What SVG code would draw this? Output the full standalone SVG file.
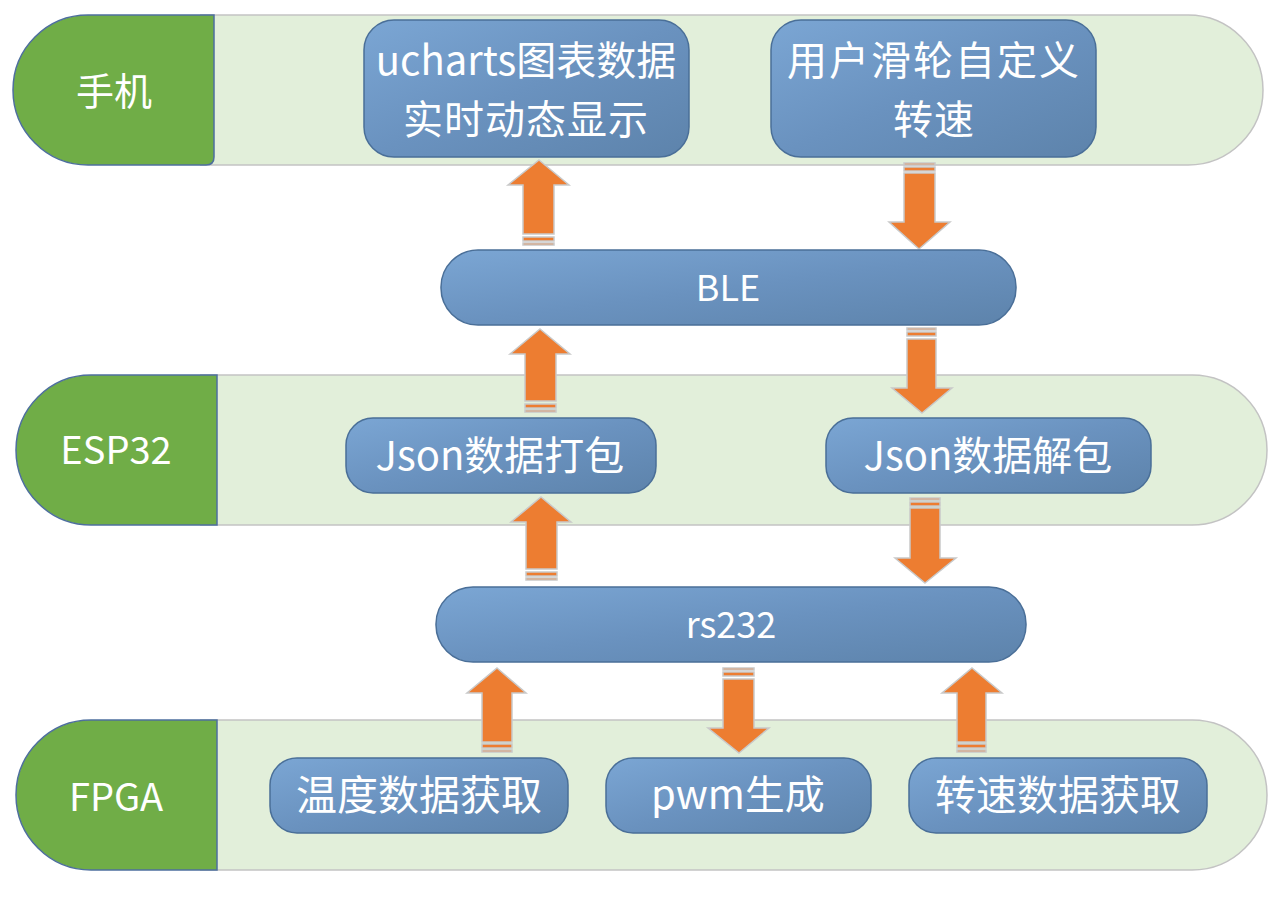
<svg xmlns="http://www.w3.org/2000/svg" width="1284" height="897" viewBox="0 0 1284 897">
<defs>
<linearGradient id="ng" x1="0" y1="0" x2="1" y2="1">
<stop offset="0" stop-color="#7ba6d4"/>
<stop offset="0.5" stop-color="#6a92bf"/>
<stop offset="1" stop-color="#5d83ab"/>
</linearGradient>
<style>
.band{fill:#e2efda;stroke:#c3c3c3;stroke-width:1.5}
.lane{fill:#70ad47;stroke:#4e6f9e;stroke-width:1.5}
.node{fill:url(#ng);stroke:#4a6f98;stroke-width:1.5}
.arr{fill:#ed7d31;stroke:#c9c9c9;stroke-width:1.5}
.t{font-family:"Noto Sans CJK SC","Noto Sans",sans-serif;fill:#ffffff;text-anchor:middle;dominant-baseline:central}
</style>
</defs>
<g id="lane-phone">
<path class="band" d="M200,15 H1188 A75,75 0 0 1 1188,165 H200"/>
<path class="lane" d="M88,15 H214 V157 Q214,165 206,165 H88 A75,75 0 0 1 88,15 Z"/>
<text class="t" x="114" y="88" font-size="38">手机</text>
</g>
<g id="lane-esp32">
<path class="band" d="M200,375 H1192 A75,75 0 0 1 1192,525 H200"/>
<path class="lane" d="M91,375 H217 V525 H91 A75,75 0 0 1 91,375 Z"/>
<text class="t" x="116" y="447" font-size="38">ESP32</text>
</g>
<g id="lane-fpga">
<path class="band" d="M200,720 H1192 A75,75 0 0 1 1192,870 H200"/>
<path class="lane" d="M91,720 H217 V870 H91 A75,75 0 0 1 91,720 Z"/>
<text class="t" x="116" y="794" font-size="38">FPGA</text>
</g>
<g id="connectors">
<path class="arr" d="M539,160 L569,185 H554 V234 H523 V185 H508 Z"/>
<rect class="arr" x="523" y="237" width="31" height="4"/>
<rect class="arr" x="523" y="243" width="31" height="2"/>
<path class="arr" d="M919,249 L950,222 H935 V173 H904 V222 H889 Z"/>
<rect class="arr" x="904" y="167" width="31" height="4"/>
<rect class="arr" x="904" y="163" width="31" height="2"/>
<path class="arr" d="M540,329 L570,354 H556 V401 H525 V354 H510 Z"/>
<rect class="arr" x="525" y="404" width="31" height="4"/>
<rect class="arr" x="525" y="410" width="31" height="2"/>
<path class="arr" d="M922,413 L952,388 H936 V339 H907 V388 H892 Z"/>
<rect class="arr" x="907" y="332" width="29" height="4"/>
<rect class="arr" x="907" y="328" width="29" height="2"/>
<path class="arr" d="M541,497 L571,522 H557 V569 H526 V522 H511 Z"/>
<rect class="arr" x="526" y="572" width="31" height="4"/>
<rect class="arr" x="526" y="578" width="31" height="2"/>
<path class="arr" d="M925,583 L956,558 H940 V508 H910 V558 H895 Z"/>
<rect class="arr" x="910" y="502" width="30" height="4"/>
<rect class="arr" x="910" y="498" width="30" height="2"/>
<path class="arr" d="M497,668 L526,693 H512 V742 H482 V693 H467 Z"/>
<rect class="arr" x="482" y="744" width="30" height="4"/>
<rect class="arr" x="482" y="750" width="30" height="2"/>
<path class="arr" d="M739,753 L769,728 H754 V679 H723 V728 H708 Z"/>
<rect class="arr" x="723" y="672" width="31" height="4"/>
<rect class="arr" x="723" y="668" width="31" height="2"/>
<path class="arr" d="M972,668 L1002,693 H986 V742 H957 V693 H942 Z"/>
<rect class="arr" x="957" y="744" width="29" height="4"/>
<rect class="arr" x="957" y="750" width="29" height="2"/>
</g>
<g id="node-ucharts">
<rect class="node" x="364" y="20" width="325" height="137" rx="30"/>
<text class="t" x="526" y="58" font-size="40">ucharts图表数据</text>
<text class="t" x="526" y="117" font-size="40" letter-spacing="1">实时动态显示</text>
</g>
<g id="node-slider">
<rect class="node" x="771" y="20" width="325" height="137" rx="30"/>
<text class="t" x="934" y="58" font-size="40" letter-spacing="2">用户滑轮自定义</text>
<text class="t" x="934" y="117" font-size="40" letter-spacing="1">转速</text>
</g>
<g id="node-ble">
<rect class="node" x="441" y="250" width="575" height="75" rx="37"/>
<text class="t" x="728" y="285" font-size="36">BLE</text>
</g>
<g id="node-json-pack">
<rect class="node" x="346" y="418" width="310" height="75" rx="27"/>
<text class="t" x="500" y="453" font-size="40">Json数据打包</text>
</g>
<g id="node-json-unpack">
<rect class="node" x="826" y="418" width="325" height="75" rx="27"/>
<text class="t" x="988" y="453" font-size="40">Json数据解包</text>
</g>
<g id="node-rs232">
<rect class="node" x="436" y="587" width="590" height="75" rx="37"/>
<text class="t" x="731" y="622" font-size="36">rs232</text>
</g>
<g id="node-temp">
<rect class="node" x="270" y="758" width="298" height="75" rx="27"/>
<text class="t" x="419" y="792" font-size="41">温度数据获取</text>
</g>
<g id="node-pwm">
<rect class="node" x="606" y="758" width="265" height="75" rx="27"/>
<text class="t" x="738" y="792" font-size="40">pwm生成</text>
</g>
<g id="node-speed">
<rect class="node" x="909" y="758" width="298" height="75" rx="27"/>
<text class="t" x="1058" y="792" font-size="41">转速数据获取</text>
</g>
</svg>
